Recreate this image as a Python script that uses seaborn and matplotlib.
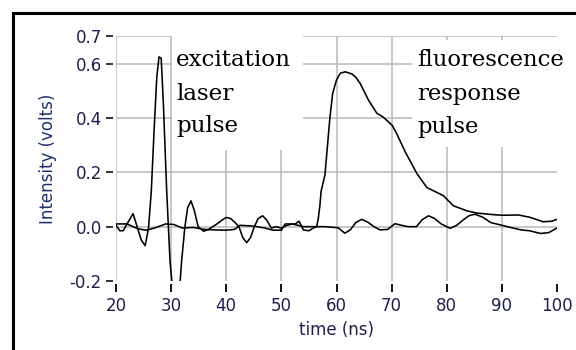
import matplotlib
matplotlib.use("Agg")
import matplotlib.pyplot as plt
from matplotlib.lines import Line2D
from matplotlib.patches import Rectangle
import seaborn as sns

# ---- data ----
laser_t = [20, 20.7, 21.3, 22, 23.1, 23.9, 24.6, 25.3, 25.9, 26.4, 26.9, 27.4, 27.8,
           28.2, 28.6, 29.2, 29.8, 30.3, 31.0, 31.5, 31.9, 32.5, 33.0, 33.6, 34.2,
           34.9, 35.9, 36.8, 38.3, 39.3, 40.0, 40.8, 41.6, 42.3, 43.0, 43.7, 44.4,
           45.1, 45.8, 46.6, 47.3, 48.2, 49.0, 50.0, 51, 52, 53, 54, 55, 56, 58,
           60.3, 61.5, 62.5, 63.5, 64.6, 65.8, 66.8, 67.9, 69.3, 70.6, 71.8, 73,
           74.5, 75.5, 76.7, 77.8, 79, 80.6, 81.8, 83, 84, 85.1, 86.5, 88, 90, 92,
           93.5, 95, 97, 98.5, 100]
laser_v = [0.005, -0.015, -0.015, 0.01, 0.048, -0.005, -0.05, -0.07, -0.005, 0.13,
           0.35, 0.55, 0.625, 0.62, 0.45, 0.13, -0.127, -0.24, -0.30, -0.24, -0.127,
           0.0, 0.07, 0.095, 0.06, 0.0, -0.017, -0.01, 0.01, 0.025, 0.034, 0.03,
           0.015, 0.0, -0.04, -0.059, -0.04, 0.0, 0.03, 0.04, 0.025, -0.005, 0.0,
           -0.005, 0.005, 0.01, 0.005, 0.0, 0.0, 0.0, 0.0, -0.004, -0.024, -0.012,
           0.015, 0.027, 0.015, 0.0, -0.012, -0.01, 0.011, 0.005, 0.0, 0.0, 0.025,
           0.04, 0.03, 0.01, -0.006, 0.005, 0.025, 0.04, 0.046, 0.035, 0.015, 0.005,
           -0.005, -0.012, -0.015, -0.025, -0.022, -0.005]

fluor_t = [20, 22, 24, 25.5, 27, 29, 30.5, 32, 34, 36, 38, 40, 41.5, 42.5, 45, 47,
           48.5, 50, 50.7, 52.5, 53.2, 54, 55, 55.8, 56.4, 56.7, 57, 57.2, 57.9,
           58.8, 59.3, 60.0, 60.7, 61.6, 62.8, 63.5, 64.3, 65.8, 67.3, 68.5, 70.1,
           70.9, 72.5, 74.6, 76.4, 79.4, 81.2, 83.7, 85.5, 88, 90, 93, 95, 97.5,
           99, 100]
fluor_v = [0.01, 0.01, -0.008, -0.013, -0.005, 0.01, 0.008, -0.005, -0.003, -0.01,
           -0.012, -0.013, -0.01, 0.005, 0.002, -0.005, -0.013, -0.013, 0.01, 0.01,
           0.02, -0.012, -0.015, -0.005, 0.0, 0.03, 0.08, 0.13, 0.19, 0.4, 0.49,
           0.54, 0.565, 0.57, 0.562, 0.55, 0.527, 0.466, 0.418, 0.403, 0.373, 0.343,
           0.274, 0.195, 0.144, 0.114, 0.077, 0.058, 0.05, 0.045, 0.042, 0.043,
           0.035, 0.018, 0.02, 0.027]

x_ticks = [20, 30, 40, 50, 60, 70, 80, 90, 100]
y_ticks = [-0.2, 0.0, 0.2, 0.4, 0.6, 0.7]
y_ticklabels = ["-0.2", "0.0", "0.2", "0.4", "0.6", "0.7"]
x_label = "time (ns)"
y_label = "Intensity (volts)"
label_left = ["excitation", "laser", "pulse"]
label_right = ["fluorescence", "response", "pulse"]

# ---- style ----
sns.set_theme(style="white")
plt.rcParams["font.family"] = ["DejaVu Sans"]
tick_color = "#1f1f4f"
grid_color = "#bdbdbd"

fig = plt.figure(figsize=(5.76, 3.5), dpi=100)
W, H = 576, 350
ax = fig.add_axes([116 / W, 1 - 281 / H, 441 / W, 244.5 / H])

ax.set_xlim(20, 100)
ax.set_ylim(-0.2, 0.7)
ax.set_xticks(x_ticks)
ax.set_yticks(y_ticks)
ax.set_yticklabels(y_ticklabels)

for s in ax.spines.values():
    s.set_visible(False)
ax.spines["bottom"].set_position(("outward", 2.2))
ax.spines["left"].set_position(("outward", 2.2))

ax.set_axisbelow(True)
ax.grid(True, color=grid_color, lw=1.2)
xg = ax.get_xgridlines()
xg[-1].set_visible(False)
yg = ax.get_ygridlines()
yg[0].set_visible(False)

ax.tick_params(axis="x", direction="out", length=5.8, width=1.3, color="black",
               pad=3.5, labelsize=12, labelcolor=tick_color, bottom=True)
ax.tick_params(axis="y", direction="out", length=5, width=1.3, color="#222222",
               pad=3, labelsize=12, labelcolor=tick_color, left=True)

# white panels behind annotation text
ax.add_patch(Rectangle((30.16, 0.282), 23.7, 0.43, facecolor="white",
                       edgecolor="none", zorder=1))
ax.add_patch(Rectangle((73.7, 0.293), 27, 0.394, facecolor="white",
                       edgecolor="none", zorder=1))

sns.lineplot(x=laser_t, y=laser_v, ax=ax, color="black", lw=1.15,
             sort=False, estimator=None, zorder=2)
sns.lineplot(x=fluor_t, y=fluor_v, ax=ax, color="black", lw=1.15,
             sort=False, estimator=None, zorder=2)

ax.set_xlabel(x_label, fontsize=12, color=tick_color)
ax.set_ylabel(y_label, fontsize=12, color="#1f2f6f")
ax.xaxis.set_label_coords(0.5, -0.165)
ax.yaxis.set_label_coords(-0.134, 0.5)

baselines = [0.593, 0.468, 0.347]
for txt, yb in zip(label_left, baselines):
    ax.text(30.9, yb, txt, family="DejaVu Serif", fontsize=16.6, color="black",
            va="baseline", ha="left", zorder=3)
baselines_r = [0.590, 0.466, 0.345]
for txt, yb in zip(label_right, baselines_r):
    ax.text(74.6, yb, txt, family="DejaVu Serif", fontsize=16.4, color="black",
            va="baseline", ha="left", zorder=3)

# outer frame (left and top edges)
fx = 13 / W
fy = 1 - 12.5 / H
fig.add_artist(Line2D([fx, fx, 1.0], [0.0, fy, fy], transform=fig.transFigure,
                      color="black", lw=2.2, solid_joinstyle="miter"))

fig.savefig("out.png", dpi=100)
